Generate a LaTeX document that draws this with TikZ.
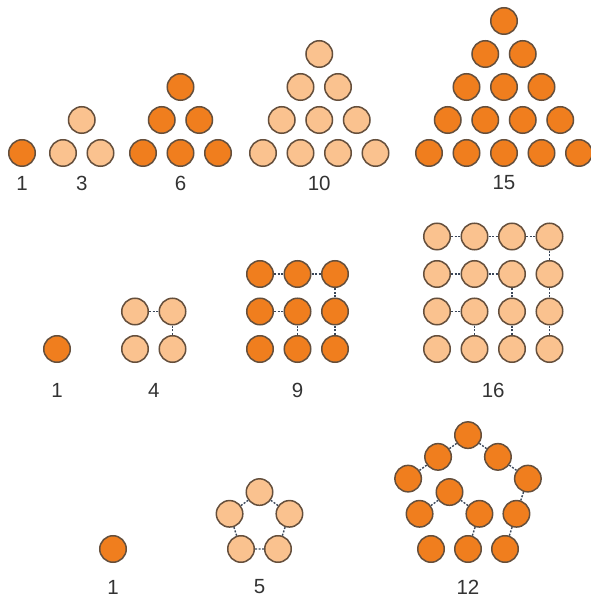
\documentclass[tikz,border=0pt]{standalone}
\usepackage{fontspec}
\setmainfont{Liberation Sans}
\usetikzlibrary{calc}

\definecolor{dotdark}{HTML}{F07E1E}
\definecolor{dotlight}{HTML}{FAC28F}
\definecolor{dotrim}{HTML}{654F3C}
\definecolor{linkgray}{HTML}{3A4658}

\tikzset{
  ball/.style={circle,draw=dotrim,line width=1.5pt,minimum size=26.5pt,inner sep=0pt},
  dk/.style={ball,fill=dotdark},
  lt/.style={ball,fill=dotlight},
  link/.style={linkgray,line width=1.4pt,dash pattern=on 2pt off 1.5pt},
  num/.style={font=\fontsize{20.5}{24}\selectfont,text=black!80,inner sep=0pt}
}

\begin{document}
\begin{tikzpicture}[x=1pt,y=1pt]
  \useasboundingbox (0,0) rectangle (590,598);

  % triangular numbers
  \foreach \n/\xo/\kind in {1/22/dk,2/63/lt,3/143/dk,4/263/lt,5/429/dk}{
    \begin{scope}[shift={(\xo,445)}]
      \foreach \r in {1,...,\n}
        \foreach \k in {\r,...,\n}
          \node[\kind] (tri\n-\r-\k) at ({(\k-\r)*37.5+(\r-1)*18.75},{(\r-1)*33}) {};
      \node[num] (trilab\n) at ({(\n-1)*18.75},-30) {\pgfmathparse{int(\n*(\n+1)/2)}\pgfmathresult};
    \end{scope}
  }

  % square numbers
  \node[dk] (sq1-1-1) at (57,249) {};
  \node[num] (sqlab1) at (57,208) {1};
  \foreach \n/\xo/\kind in {2/135/lt,3/260/dk,4/437/lt}{
    \begin{scope}[shift={(\xo,249)}]
      \foreach \i in {1,...,\n}
        \foreach \j in {1,...,\n}
          \node[\kind] (sq\n-\i-\j) at ({(\i-1)*37.5},{(\j-1)*37.5}) {};
      \foreach \k in {2,...,\n}
        \foreach \i in {2,...,\k}{
          \pgfmathtruncatemacro\im{\i-1}
          \draw[link] (sq\n-\im-\k) -- (sq\n-\i-\k);
          \draw[link] (sq\n-\k-\im) -- (sq\n-\k-\i);
        }
      \node[num] (sqlab\n) at ({(\n-1)*18.75},-41) {\pgfmathparse{int(\n*\n)}\pgfmathresult};
    \end{scope}
  }

  % pentagonal numbers
  \node[dk] (pt1) at (113,49) {};
  \node[num] (ptlab1) at (113,11) {1};

  \begin{scope}[shift={(241,49)}]
    \node[lt] (pa-bl) at (0,0) {};
    \node[lt] (pa-br) at (0:37) {};
    \node[lt] (pa-r) at (36:59.87) {};
    \node[lt] (pa-t) at (72:59.87) {};
    \node[lt] (pa-l) at (108:37) {};
    \draw[link] (pa-bl) -- (pa-br) -- (pa-r) -- (pa-t) -- (pa-l) -- (pa-bl);
    \node[num] (ptlab5) at (18.5,-38) {5};
  \end{scope}

  \begin{scope}[shift={(431,49)}]
    \node[dk] (pb-bl) at (0,0) {};
    \node[dk] (pb-br2) at (0:37) {};
    \node[dk] (pb-r2) at (36:59.87) {};
    \node[dk] (pb-t2) at (72:59.87) {};
    \node[dk] (pb-l2) at (108:37) {};
    \node[dk] (pb-br3) at (0:74) {};
    \node[dk] (pb-r3) at (36:119.74) {};
    \node[dk] (pb-t3) at (72:119.74) {};
    \node[dk] (pb-l3) at (108:74) {};
    \node[dk] (pb-m1) at ($(pb-l3)!0.5!(pb-t3)$) {};
    \node[dk] (pb-m2) at ($(pb-t3)!0.5!(pb-r3)$) {};
    \node[dk] (pb-m3) at ($(pb-r3)!0.5!(pb-br3)$) {};
    \draw[link] (pb-l2) -- (pb-t2) -- (pb-r2) -- (pb-br2);
    \draw[link] (pb-l3) -- (pb-m1) -- (pb-t3) -- (pb-m2) -- (pb-r3) -- (pb-m3) -- (pb-br3);
    \node[num] (ptlab12) at (37,-38) {12};
  \end{scope}
\end{tikzpicture}
\end{document}
